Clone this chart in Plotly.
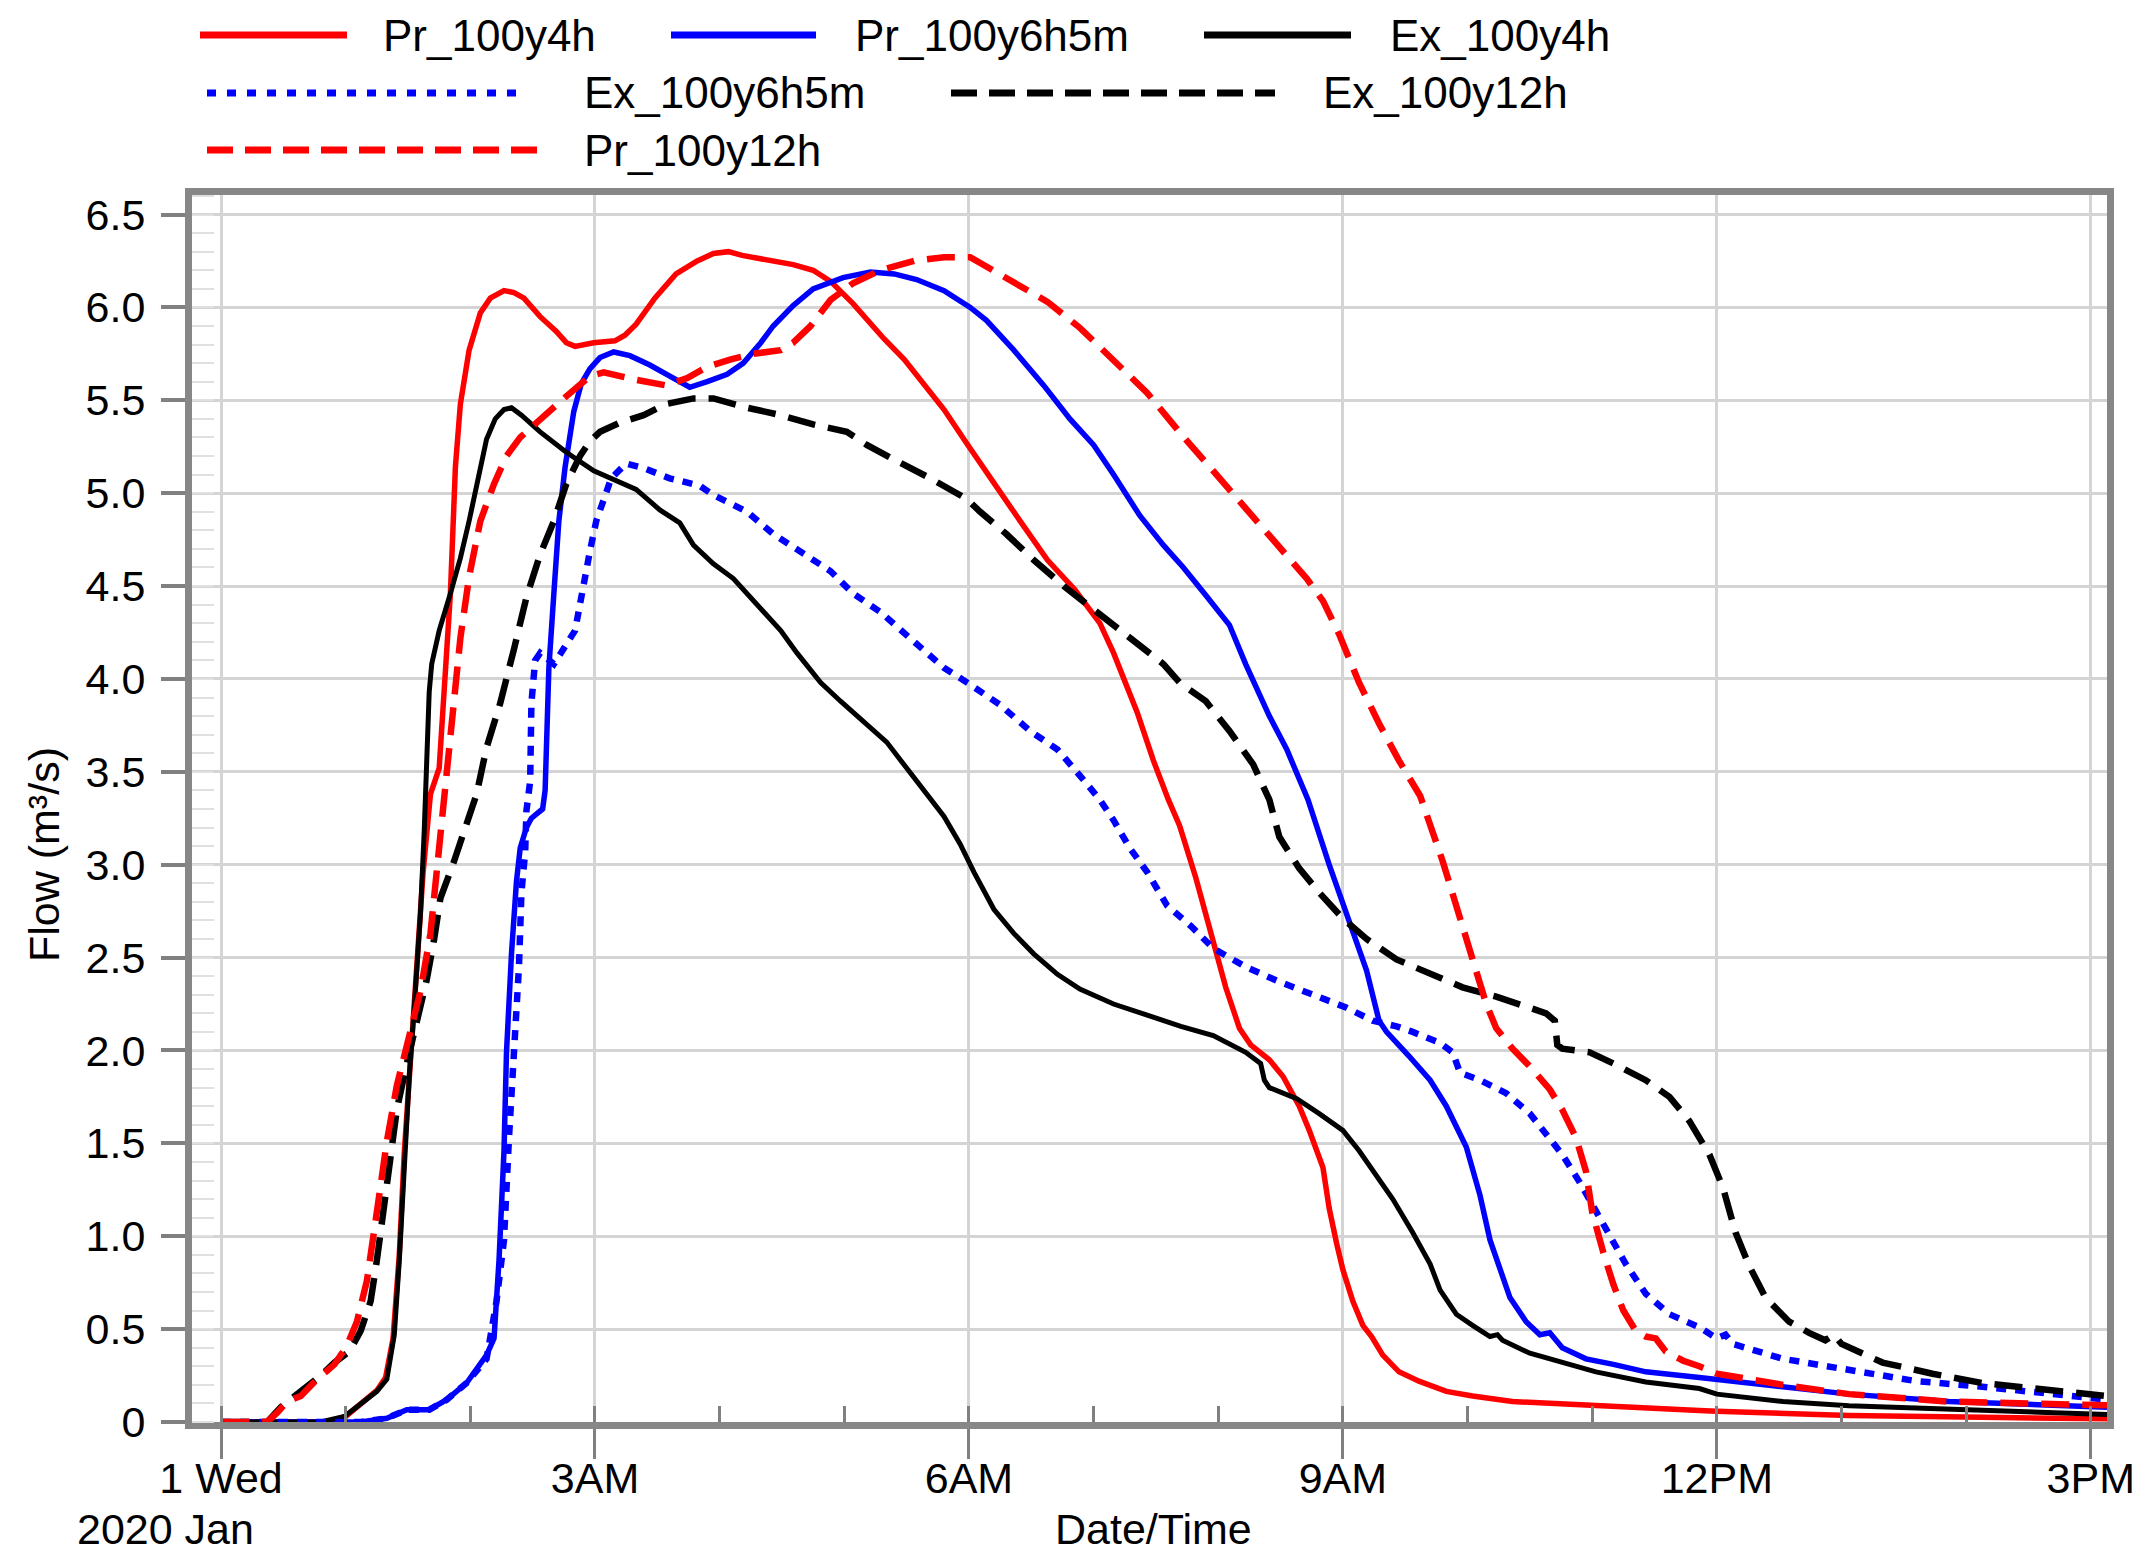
import pandas as pd
import plotly.graph_objects as go

# ---------------- data (hours after 2020-01-01 00:00, flow m3/s) ----------------
pr4_hours = [0.0, 0.85, 1.0, 1.12, 1.25, 1.32, 1.38, 1.43, 1.47, 1.52, 1.57, 1.62, 1.68, 1.75,
             1.84, 1.88, 1.92, 1.99, 2.08, 2.16, 2.27, 2.35, 2.43, 2.56, 2.69, 2.77, 2.84, 2.99,
             3.16, 3.24, 3.33, 3.48, 3.65, 3.82, 3.95, 4.07, 4.18, 4.43, 4.59, 4.75, 4.89, 5.07,
             5.32, 5.48, 5.66, 5.80, 5.98, 6.17, 6.39, 6.63, 6.85, 7.05, 7.16, 7.35, 7.48, 7.60,
             7.69, 7.82, 7.96, 8.06, 8.17, 8.26, 8.41, 8.52, 8.65, 8.73, 8.84, 8.89, 8.95, 9.0,
             9.08, 9.16, 9.23, 9.32, 9.45, 9.61, 9.83, 10.04, 10.36, 10.63, 11.0, 11.43, 11.86,
             12.0, 13.06, 14.13, 15.13]
pr4_flow = [0.0, 0.0, 0.03, 0.10, 0.17, 0.24, 0.45, 0.90, 1.45, 1.95, 2.40, 2.95, 3.38, 3.52,
            4.46, 5.14, 5.48, 5.77, 5.97, 6.05, 6.09, 6.08, 6.05, 5.95, 5.87, 5.81, 5.79, 5.81,
            5.82, 5.85, 5.91, 6.05, 6.18, 6.25, 6.29, 6.30, 6.28, 6.25, 6.23, 6.20, 6.14, 6.02,
            5.83, 5.72, 5.57, 5.45, 5.27, 5.08, 4.87, 4.64, 4.48, 4.30, 4.14, 3.82, 3.56, 3.35,
            3.21, 2.93, 2.58, 2.34, 2.12, 2.03, 1.95, 1.86, 1.70, 1.57, 1.37, 1.15, 0.96, 0.82,
            0.65, 0.52, 0.46, 0.36, 0.27, 0.22, 0.165, 0.14, 0.11, 0.10, 0.088, 0.073, 0.062,
            0.058, 0.035, 0.025, 0.018]

pr6_hours = [0.0, 1.12, 1.33, 1.49, 1.67, 1.81, 1.97, 2.07, 2.13, 2.19, 2.23, 2.27, 2.29, 2.33,
             2.37, 2.40, 2.45, 2.49, 2.58, 2.60, 2.63, 2.67, 2.71, 2.76, 2.83, 2.89, 2.96, 3.04,
             3.15, 3.28, 3.44, 3.60, 3.76, 3.90, 4.06, 4.19, 4.33, 4.43, 4.59, 4.75, 4.99, 5.21,
             5.40, 5.58, 5.80, 6.01, 6.14, 6.36, 6.60, 6.81, 7.00, 7.16, 7.37, 7.56, 7.72, 7.90,
             8.09, 8.22, 8.41, 8.55, 8.72, 8.89, 9.05, 9.19, 9.29, 9.35, 9.53, 9.70, 9.83, 9.99,
             10.10, 10.18, 10.34, 10.47, 10.58, 10.66, 10.76, 10.95, 11.17, 11.43, 11.86, 12.0,
             12.53, 13.06, 13.86, 14.67, 15.13]
pr6_flow = [0.0, 0.0, 0.02, 0.066, 0.066, 0.12, 0.21, 0.30, 0.36, 0.45, 0.87, 1.46, 1.99, 2.52,
            2.91, 3.09, 3.20, 3.25, 3.30, 3.40, 4.06, 4.46, 4.85, 5.14, 5.44, 5.59, 5.67, 5.73,
            5.76, 5.74, 5.69, 5.63, 5.57, 5.60, 5.64, 5.70, 5.81, 5.90, 6.01, 6.10, 6.16, 6.19,
            6.18, 6.15, 6.09, 6.00, 5.93, 5.77, 5.58, 5.40, 5.26, 5.10, 4.88, 4.72, 4.60, 4.45,
            4.29, 4.08, 3.80, 3.62, 3.35, 3.00, 2.69, 2.43, 2.16, 2.10, 1.97, 1.84, 1.70, 1.48,
            1.22, 0.98, 0.67, 0.54, 0.47, 0.48, 0.40, 0.34, 0.31, 0.27, 0.24, 0.23,
            0.19, 0.15, 0.11, 0.09, 0.08]

ex4_hours = [0.0, 0.8, 0.99, 1.12, 1.25, 1.33, 1.39, 1.43, 1.47, 1.51, 1.55, 1.60, 1.63, 1.65,
             1.67, 1.69, 1.75, 1.84, 1.92, 1.99, 2.07, 2.13, 2.20, 2.27, 2.33, 2.41, 2.56, 2.77,
             2.99, 3.20, 3.33, 3.52, 3.68, 3.79, 3.95, 4.11, 4.33, 4.49, 4.62, 4.81, 4.97, 5.18,
             5.34, 5.50, 5.64, 5.80, 5.93, 6.04, 6.20, 6.36, 6.52, 6.71, 6.89, 7.16, 7.43, 7.70,
             7.96, 8.22, 8.34, 8.37, 8.41, 8.63, 8.81, 9.0, 9.13, 9.27, 9.40, 9.56, 9.70, 9.78,
             9.91, 10.04, 10.18, 10.24, 10.28, 10.50, 10.76, 11.03, 11.43, 11.86, 12.0, 12.53,
             13.06, 13.86, 14.67, 15.13]
ex4_flow = [0.0, 0.0, 0.03, 0.10, 0.165, 0.23, 0.47, 0.87, 1.42, 1.86, 2.23, 2.74, 3.18, 3.50,
            3.93, 4.08, 4.26, 4.46, 4.65, 4.85, 5.12, 5.29, 5.40, 5.45, 5.46, 5.42, 5.33, 5.22,
            5.12, 5.06, 5.02, 4.91, 4.84, 4.72, 4.62, 4.54, 4.38, 4.26, 4.14, 3.98, 3.88, 3.76,
            3.66, 3.52, 3.40, 3.26, 3.11, 2.96, 2.76, 2.63, 2.52, 2.41, 2.33, 2.25, 2.19, 2.13,
            2.08, 1.99, 1.93, 1.84, 1.80, 1.74, 1.66, 1.57, 1.46, 1.33, 1.20, 1.02, 0.85, 0.71,
            0.58, 0.52, 0.46, 0.47, 0.44, 0.37, 0.32, 0.27, 0.215, 0.18, 0.15, 0.11,
            0.087, 0.068, 0.05, 0.04]

ex6_hours = [0.0, 1.12, 1.33, 1.49, 1.67, 1.81, 1.97, 2.13, 2.21, 2.27, 2.31, 2.35, 2.39, 2.41,
             2.44, 2.45, 2.48, 2.49, 2.52, 2.56, 2.67, 2.84, 2.89, 2.96, 3.01, 3.07, 3.13, 3.25,
             3.41, 3.60, 3.84, 3.95, 4.22, 4.43, 4.62, 4.89, 5.07, 5.29, 5.56, 5.80, 6.01, 6.25,
             6.49, 6.71, 6.89, 7.05, 7.16, 7.29, 7.43, 7.59, 7.78, 7.96, 8.22, 8.49, 8.76, 9.03,
             9.24, 9.43, 9.56, 9.78, 9.88, 9.94, 10.10, 10.31, 10.50, 10.63, 10.76, 10.90, 11.03,
             11.14, 11.27, 11.43, 11.62, 11.86, 12.0, 12.07, 12.13, 12.53, 13.06, 13.6, 14.13,
             14.67, 15.13]
ex6_flow = [0.0, 0.0, 0.02, 0.066, 0.066, 0.12, 0.21, 0.34, 0.65, 0.98, 1.53, 1.97, 2.45, 2.85,
            3.07, 3.29, 3.45, 3.87, 4.10, 4.14, 4.08, 4.26, 4.46, 4.69, 4.85, 4.97, 5.08, 5.16,
            5.13, 5.08, 5.04, 4.99, 4.90, 4.78, 4.70, 4.58, 4.46, 4.36, 4.20, 4.06, 3.97, 3.86,
            3.72, 3.62, 3.48, 3.35, 3.24, 3.09, 2.96, 2.78, 2.67, 2.55, 2.45, 2.37, 2.30, 2.23,
            2.16, 2.13, 2.10, 2.04, 1.99, 1.88, 1.84, 1.77, 1.66, 1.55, 1.44, 1.29, 1.13,
            1.00, 0.85, 0.69, 0.58, 0.51, 0.45, 0.47, 0.42, 0.34, 0.28, 0.22, 0.19,
            0.15, 0.12]

ex12_hours = [0.0, 0.37, 0.48, 0.56, 0.67, 0.80, 0.91, 1.03, 1.12, 1.20, 1.25, 1.31, 1.36, 1.41,
              1.48, 1.57, 1.65, 1.71, 1.76, 1.87, 1.97, 2.05, 2.13, 2.24, 2.35, 2.45, 2.56, 2.67,
              2.77, 2.88, 2.96, 3.04, 3.20, 3.39, 3.57, 3.79, 3.95, 4.22, 4.49, 4.75, 5.02, 5.18,
              5.40, 5.69, 5.98, 6.09, 6.30, 6.52, 6.76, 7.03, 7.29, 7.56, 7.69, 7.90, 8.09, 8.28,
              8.41, 8.49, 8.65, 8.81, 9.0, 9.19, 9.43, 9.70, 9.96, 10.23, 10.50, 10.63, 10.70,
              10.72, 10.76, 10.98, 11.17, 11.43, 11.62, 11.78, 11.94, 12.05, 12.15, 12.26, 12.39,
              12.58, 12.74, 12.87, 12.94, 13.0, 13.33, 13.73, 14.13, 14.67, 15.13]
ex12_flow = [0.0, 0.0, 0.08, 0.12, 0.18, 0.25, 0.32, 0.38, 0.49, 0.65, 0.87, 1.20, 1.42, 1.68,
             1.90, 2.16, 2.38, 2.60, 2.82, 3.02, 3.22, 3.38, 3.63, 3.87, 4.16, 4.44, 4.67, 4.85,
             5.05, 5.20, 5.28, 5.33, 5.38, 5.42, 5.48, 5.51, 5.51, 5.46, 5.42, 5.37, 5.33, 5.26,
             5.18, 5.08, 4.97, 4.90, 4.78, 4.64, 4.50, 4.36, 4.22, 4.08, 3.98, 3.88, 3.72, 3.54,
             3.35, 3.15, 2.98, 2.85, 2.71, 2.60, 2.49, 2.41, 2.34, 2.29, 2.23, 2.20, 2.16,
             2.03, 2.01, 1.99, 1.93, 1.84, 1.75, 1.62, 1.44, 1.26, 1.02, 0.84, 0.67,
             0.54, 0.48, 0.44, 0.47, 0.42, 0.32, 0.26, 0.21, 0.17, 0.14]

pr12_hours = [0.0, 0.37, 0.45, 0.53, 0.64, 0.77, 0.91, 1.01, 1.09, 1.17, 1.25, 1.33, 1.41, 1.49,
              1.60, 1.68, 1.73, 1.77, 1.80, 1.87, 1.92, 1.99, 2.08, 2.19, 2.29, 2.40, 2.56, 2.75,
              2.96, 3.07, 3.33, 3.57, 3.74, 3.90, 4.09, 4.27, 4.49, 4.59, 4.73, 4.89, 5.07, 5.29,
              5.56, 5.80, 6.01, 6.14, 6.36, 6.63, 6.89, 7.16, 7.43, 7.70, 7.96, 8.22, 8.49, 8.71,
              8.84, 8.97, 9.13, 9.29, 9.45, 9.62, 9.80, 9.96, 10.07, 10.15, 10.23, 10.36, 10.52,
              10.66, 10.76, 10.87, 10.95, 11.0, 11.09, 11.17, 11.25, 11.35, 11.43, 11.51, 11.59,
              11.73, 11.86, 12.0, 12.53, 13.06, 13.86, 14.67, 15.13]
pr12_flow = [0.0, 0.0, 0.05, 0.11, 0.14, 0.23, 0.31, 0.41, 0.54, 0.76, 1.13, 1.51, 1.81, 2.03,
             2.32, 2.63, 2.96, 3.22, 3.36, 3.87, 4.22, 4.55, 4.85, 5.05, 5.20, 5.30, 5.40, 5.51,
             5.63, 5.65, 5.61, 5.58, 5.62, 5.68, 5.72, 5.75, 5.77, 5.81, 5.90, 6.04, 6.13, 6.20,
             6.25, 6.27, 6.27, 6.22, 6.14, 6.03, 5.89, 5.72, 5.54, 5.32, 5.12, 4.92, 4.72, 4.54,
             4.42, 4.24, 3.98, 3.76, 3.56, 3.37, 3.02, 2.67, 2.41, 2.25, 2.12, 2.01, 1.90,
             1.79, 1.68, 1.53, 1.35, 1.13, 0.91, 0.74, 0.60, 0.49, 0.46, 0.45, 0.38,
             0.33, 0.30, 0.26, 0.20, 0.15, 0.11, 0.095, 0.09]

series_names = ["Pr_100y4h", "Pr_100y6h5m", "Ex_100y4h", "Ex_100y6h5m", "Ex_100y12h", "Pr_100y12h"]
x_tick_hours = [0, 3, 6, 9, 12, 15]
x_tick_labels = ["1 Wed", "3AM", "6AM", "9AM", "12PM", "3PM"]
y_tick_values = [0, 0.5, 1.0, 1.5, 2.0, 2.5, 3.0, 3.5, 4.0, 4.5, 5.0, 5.5, 6.0, 6.5]
y_tick_labels = ["0", "0.5", "1.0", "1.5", "2.0", "2.5", "3.0", "3.5", "4.0", "4.5", "5.0", "5.5", "6.0", "6.5"]

# ---------------- helpers ----------------
BASE = pd.Timestamp("2020-01-01 00:00:00")


def to_time(hours):
    return [BASE + pd.Timedelta(hours=h) for h in hours]


# The page body has an 8px default margin, so the figure is made 16px smaller
# and every position below is given in screenshot pixels, shifted by OFF.
OFF = 8
W, H = 2155 - 2 * OFF, 1563 - 2 * OFF
PL, PR, PT, PB = 192 - OFF, 2107 - OFF, 195 - OFF, 1422 - OFF  # plot-area box (figure px)


def px(x):
    return (x - OFF - PL) / (PR - PL)


def py(y):
    return (PB - (y - OFF)) / (PB - PT)


FONT = "Liberation Sans, Arial, sans-serif"
RED, BLUE, BLACK = "#ff0000", "#0000ff", "#000000"
DASH = "28px,13px"
DOT = "10px,9px"

styles = [
    dict(color=RED, dash="solid", width=5.5),
    dict(color=BLUE, dash="solid", width=5.5),
    dict(color=BLACK, dash="solid", width=5),
    dict(color=BLUE, dash=DOT, width=6.5),
    dict(color=BLACK, dash=DASH, width=6.5),
    dict(color=RED, dash=DASH, width=6.5),
]
data = [(pr4_hours, pr4_flow), (pr6_hours, pr6_flow), (ex4_hours, ex4_flow),
        (ex6_hours, ex6_flow), (ex12_hours, ex12_flow), (pr12_hours, pr12_flow)]

fig = go.Figure()
for name, (hrs, q), st in zip(series_names, data, styles):
    fig.add_trace(go.Scatter(x=to_time(hrs), y=q, mode="lines", name=name,
                             line=dict(color=st["color"], dash=st["dash"], width=st["width"]),
                             showlegend=False))

# ---------------- manual legend (long line samples like the original) ----------------
legend_rows = [
    (0, 200, 347, 382, 35), (1, 671, 816, 854, 35), (2, 1204, 1351, 1389, 35),
    (3, 207, 527, 583, 93), (4, 951, 1275, 1322, 93), (5, 207, 538, 583, 150),
]
shapes, annotations = [], []
legend_dash = {"solid": "solid", DOT: "9px,11px", DASH: "26px,12px"}
for idx, x0, x1, xt, yr in legend_rows:
    st = styles[idx]
    shapes.append(dict(type="line", xref="paper", yref="paper", x0=px(x0), x1=px(x1),
                       y0=py(yr), y1=py(yr),
                       line=dict(color=st["color"], width=7, dash=legend_dash[st["dash"]])))
    annotations.append(dict(text=series_names[idx], xref="paper", yref="paper", x=px(xt), y=py(yr),
                            xanchor="left", yanchor="middle", showarrow=False, borderpad=0,
                            font=dict(size=44, color="black", family=FONT)))

annotations.append(dict(text="2020 Jan", xref="paper", yref="paper", x=px(76), y=py(1529),
                        xanchor="left", yanchor="middle", showarrow=False, borderpad=0,
                        font=dict(size=43, color="black", family=FONT)))
annotations.append(dict(text="Flow (m³/s)", xref="paper", yref="paper", x=px(44), y=py(855),
                        xanchor="center", yanchor="middle", textangle=-90, showarrow=False,
                        font=dict(size=43, color="black", family=FONT)))
annotations.append(dict(text="Date/Time", xref="paper", yref="paper", x=px(1153), y=py(1529),
                        xanchor="center", yanchor="middle", showarrow=False, borderpad=0,
                        font=dict(size=43, color="black", family=FONT)))

fig.update_layout(
    width=W, height=H,
    margin=dict(l=PL, r=W - PR, t=PT, b=H - PB, pad=0),
    paper_bgcolor="white", plot_bgcolor="white",
    font=dict(family=FONT, size=43, color="black"),
    shapes=shapes, annotations=annotations,
    xaxis=dict(
        type="date",
        range=[BASE + pd.Timedelta(hours=-0.233), BASE + pd.Timedelta(hours=15.13)],
        tickmode="array", tickvals=to_time(x_tick_hours), ticktext=x_tick_labels,
        ticks="outside", ticklen=30, tickwidth=3, tickcolor="#808080",
        ticklabelstandoff=-18,
        showgrid=True, gridcolor="#d4d4d4", gridwidth=3,
        minor=dict(tickmode="linear", tick0=BASE, dtick=3600000, ticks="inside",
                   ticklen=16, tickwidth=3, tickcolor="#808080", showgrid=False),
        showline=True, linewidth=7, linecolor="#878787", mirror=True,
        zeroline=False, automargin=False,
        tickfont=dict(size=43, family=FONT, color="black"),
    ),
    yaxis=dict(
        range=[0, 6.605],
        tickmode="array", tickvals=y_tick_values, ticktext=y_tick_labels,
        ticks="outside", ticklen=24, tickwidth=4, tickcolor="#808080",
        ticklabelstandoff=7,
        showgrid=True, gridcolor="#d4d4d4", gridwidth=3,
        minor=dict(tickmode="linear", tick0=0, dtick=0.1, ticks="inside",
                   ticklen=22, tickwidth=2, tickcolor="#e0e0e0", showgrid=False),
        showline=True, linewidth=7, linecolor="#878787", mirror=True,
        zeroline=False, automargin=False,
        tickfont=dict(size=43, family=FONT, color="black"),
    ),
)

fig.write_html("out.html")
